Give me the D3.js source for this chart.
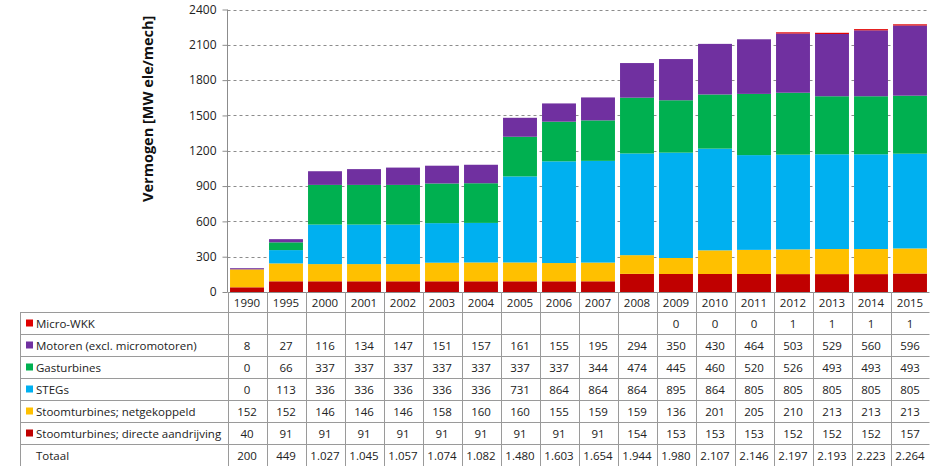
<!DOCTYPE html>
<html>
<head>
<meta charset="utf-8">
<script src="https://cdn.jsdelivr.net/npm/d3@7"></script>
<style>
  html, body { margin: 0; padding: 0; background: #fff; }
  svg { display: block; font-family: "Open Sans", "Liberation Sans", sans-serif; }
</style>
</head>
<body>
<svg id="chart" width="930" height="466"></svg>
<script>
// ---- Data ----
const years = ["1990","1995","2000","2001","2002","2003","2004","2005","2006","2007","2008","2009","2010","2011","2012","2013","2014","2015"];
const microWKK     = [null,null,null,null,null,null,null,null,null,null,null,0,0,0,1,1,1,1];
const motoren      = [8,27,116,134,147,151,157,161,155,195,294,350,430,464,503,529,560,596];
const gasturbines  = [0,66,337,337,337,337,337,337,337,344,474,445,460,520,526,493,493,493];
const stegs        = [0,113,336,336,336,336,336,731,864,864,864,895,864,805,805,805,805,805];
const netgekoppeld = [152,152,146,146,146,158,160,160,155,159,159,136,201,205,210,213,213,213];
const directe      = [40,91,91,91,91,91,91,91,91,91,154,153,153,153,152,152,152,157];
const totaal       = [200,449,1027,1045,1057,1074,1082,1480,1603,1654,1944,1980,2107,2146,2197,2193,2223,2264];
const yTicks = [0,300,600,900,1200,1500,1800,2100,2400];
const yTitle = "Vermogen [MW ele/mech]";

// series: bottom-to-top stacking order
const series = [
  {name: "Stoomturbines; directe aandrijving", values: directe,      color: "#C00000"},
  {name: "Stoomturbines; netgekoppeld",        values: netgekoppeld, color: "#FFC000"},
  {name: "STEGs",                              values: stegs,        color: "#00B0F0"},
  {name: "Gasturbines",                        values: gasturbines,  color: "#00B050"},
  {name: "Motoren (excl. micromotoren)",       values: motoren,      color: "#7030A0"},
  {name: "Micro-WKK",                          values: microWKK,     color: "#E00000"}
];

// ---- Layout ----
const svg = d3.select("#chart");
const plotLeft = 227.5, plotRight = 929.5, plotTop = 9.5, plotBottom = 292;
const tableLeft = 20.5;
const headerBottom = 312, rowH = 22;
const fs = 11.5;

const x = d3.scaleBand().domain(years).range([plotLeft, plotRight]).paddingInner(0.13).paddingOuter(0.065);
const y = d3.scaleLinear().domain([0, 2400]).range([plotBottom, plotTop]);

// gridlines
svg.append("g").selectAll("line").data(yTicks.filter(d => d > 0)).join("line")
  .attr("x1", plotLeft).attr("x2", plotRight)
  .attr("y1", d => Math.round(y(d)) + 0.5).attr("y2", d => Math.round(y(d)) + 0.5)
  .attr("stroke", "#8c8c8c").attr("stroke-width", 1).attr("stroke-dasharray", "3,3");

// y axis
const yAxis = d3.axisLeft(y).tickValues(yTicks).tickSize(5).tickPadding(6).tickFormat(d3.format("d"));
const gy = svg.append("g").attr("transform", `translate(${plotLeft},0)`).call(yAxis);
gy.select(".domain").attr("stroke", "#8c8c8c").attr("d", `M0,${plotTop}V${plotBottom}`);
gy.selectAll(".tick line").attr("stroke", "#8c8c8c");
gy.selectAll(".tick text").attr("font-size", 12).attr("fill", "#222").attr("font-family", "Open Sans, sans-serif");

// y title
svg.append("text")
  .attr("transform", `translate(153,${(plotTop + 200) / 2 + 4}) rotate(-90)`)
  .attr("text-anchor", "middle")
  .attr("font-size", 14.5).attr("font-weight", "bold").attr("fill", "#111")
  .text(yTitle);

// stacked bars
const stackData = years.map((yr, i) => {
  const o = {year: yr};
  series.forEach(s => o[s.name] = s.values[i] == null ? 0 : s.values[i]);
  return o;
});
const stacked = d3.stack().keys(series.map(s => s.name))(stackData);
const minH = 1.2;
const barsG = svg.append("g");
stacked.forEach((layer, li) => {
  const s = series[li];
  barsG.append("g").attr("fill", s.color).selectAll("rect").data(layer).join("rect")
    .attr("x", d => x(d.data.year))
    .attr("width", x.bandwidth())
    .attr("y", d => {
      const h = y(d[0]) - y(d[1]);
      const v = d[1] - d[0];
      return (v > 0 && h < minH) ? y(d[0]) - minH : y(d[1]);
    })
    .attr("height", d => {
      const h = y(d[0]) - y(d[1]);
      const v = d[1] - d[0];
      return (v > 0 && h < minH) ? minH : h;
    });
});

// axis baseline
svg.append("line").attr("x1", plotLeft).attr("x2", plotRight)
  .attr("y1", plotBottom + 0.5).attr("y2", plotBottom + 0.5).attr("stroke", "#8c8c8c");

// ---- Data table ----
const tableG = svg.append("g");
const border = "#9a9a9a";
const step = x.step();
const colEdges = years.map((yr, i) => plotLeft + i * step).concat([plotRight]);

// rows (top to bottom in table order)
const rows = series.slice().reverse().map(s => ({
  name: s.name, color: s.color,
  labels: s.values.map(v => v == null ? "" : String(v))
}));
const fmtNL = d3.formatLocale({decimal: ",", thousands: ".", grouping: [3], currency: ["€", ""]}).format(",d");
rows.push({name: "Totaal", color: null, labels: totaal.map(v => fmtNL(v))});

const tableBottom = headerBottom + rows.length * rowH;

// vertical lines for columns
colEdges.forEach((cx, i) => {
  if (i === colEdges.length - 1) return;
  tableG.append("line").attr("x1", Math.round(cx) + 0.5).attr("x2", Math.round(cx) + 0.5)
    .attr("y1", plotBottom).attr("y2", tableBottom).attr("stroke", border);
});
// left border of table
tableG.append("line").attr("x1", tableLeft).attr("x2", tableLeft)
  .attr("y1", headerBottom).attr("y2", tableBottom).attr("stroke", border);
// horizontal row lines
d3.range(rows.length).forEach(r => {
  const yy = headerBottom + r * rowH + 0.5;
  tableG.append("line").attr("x1", tableLeft).attr("x2", plotRight)
    .attr("y1", yy).attr("y2", yy).attr("stroke", border);
});

// header (years)
tableG.selectAll("text.yr").data(years).join("text").attr("class", "yr")
  .attr("x", d => x(d) + x.bandwidth() / 2)
  .attr("y", (plotBottom + headerBottom) / 2 + 4.5)
  .attr("text-anchor", "middle").attr("font-size", fs).attr("fill", "#222")
  .text(d => d);

rows.forEach((row, r) => {
  const cy = headerBottom + r * rowH + rowH / 2;
  if (row.color) {
    tableG.append("rect").attr("x", 26).attr("y", cy - 3.5).attr("width", 7).attr("height", 7).attr("fill", row.color);
  }
  tableG.append("text").attr("x", 36).attr("y", cy + 4.5)
    .attr("font-size", fs).attr("fill", "#222").text(row.name);
  tableG.selectAll(null).data(row.labels).join("text")
    .attr("x", (d, i) => x(years[i]) + x.bandwidth() / 2)
    .attr("y", cy + 4.5)
    .attr("text-anchor", "middle").attr("font-size", fs).attr("fill", "#222")
    .text(d => d);
});
</script>
</body>
</html>
